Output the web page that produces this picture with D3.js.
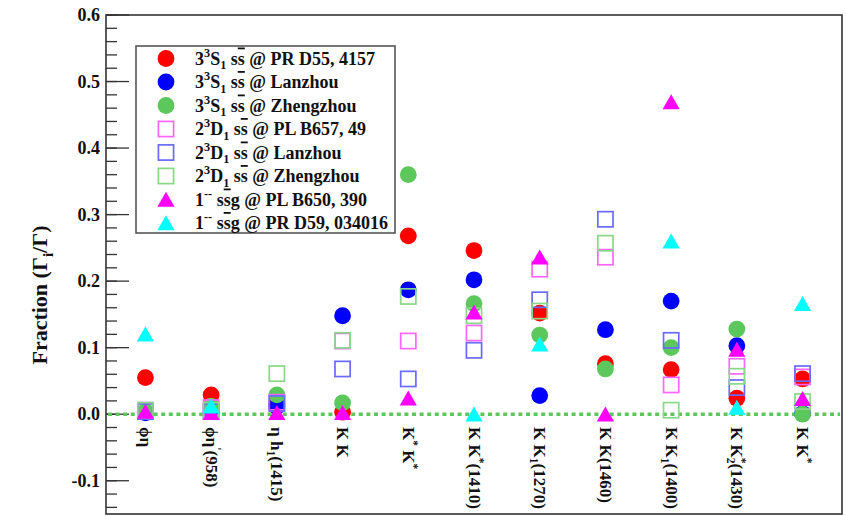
<!DOCTYPE html>
<html>
<head>
<meta charset="utf-8">
<script src="https://cdn.jsdelivr.net/npm/d3@7"></script>
<style>
  body { margin: 0; background: #fff; }
  svg text { font-family: "Liberation Serif", "Times New Roman", serif; font-weight: bold; fill: #111; }
</style>
</head>
<body>
<div id="visualContainer"></div>
<script>
// categories (ROOT-like markup: ^{} sup, _{} sub, #bar{} overline)
var categories = ["#phi#eta", "#phi#eta^{'}(958)", "#eta h_{1}(1415)", "K K", "K^{*} K^{*}",
  "K K^{*}(1410)", "K K_{1}(1270)", "K K(1460)", "K K_{1}(1400)", "K K_{2}^{*}(1430)", "K K^{*}"];

// fraction values per model, one per category
var s3_PRD55   = [0.055, 0.029, 0.015, 0.003, 0.268, 0.246, 0.152, 0.076, 0.067, 0.024, 0.053];
var s3_Lanzhou = [0.002, 0.005, 0.012, 0.148, 0.187, 0.202, 0.028, 0.127, 0.170, 0.103, 0.001];
var s3_Zhengz  = [0.004, 0.012, 0.029, 0.017, 0.360, 0.166, 0.119, 0.068, 0.100, 0.128, 0.000];
var d2_PLB657  = [0.006, 0.010, 0.018, 0.110, 0.110, 0.122, 0.218, 0.236, 0.044, 0.072, 0.056];
var d2_Lanzhou = [0.004, 0.004, 0.016, 0.068, 0.053, 0.096, 0.172, 0.293, 0.111, 0.040, 0.061];
var d2_Zhengz  = [0.006, 0.006, 0.061, 0.111, 0.177, 0.148, 0.155, 0.257, 0.006, 0.057, 0.019];
var g_PLB650   = [0.004, 0.002, 0.002, 0.002, 0.024, 0.153, 0.236, 0.000, 0.469, 0.097, 0.023];
var g_PRD59    = [0.120, 0.012, null, null, null, 0.000, 0.105, null, 0.260, 0.010, 0.166];

var legendLabels = [
  "3^{3}S_{1} s#bar{s} @ PR D55, 4157",
  "3^{3}S_{1} s#bar{s} @ Lanzhou",
  "3^{3}S_{1} s#bar{s} @ Zhengzhou",
  "2^{3}D_{1} s#bar{s} @ PL B657, 49",
  "2^{3}D_{1} s#bar{s} @ Lanzhou",
  "2^{3}D_{1} s#bar{s} @ Zhengzhou",
  "1^{--} s#bar{s}g @ PL B650, 390",
  "1^{--} s#bar{s}g @ PR D59, 034016"
];

var yTicks = [-0.1, 0.0, 0.1, 0.2, 0.3, 0.4, 0.5, 0.6];

var series = [
  {values: s3_PRD55,   shape: "circle",   color: "#ff0000"},
  {values: s3_Lanzhou, shape: "circle",   color: "#0000ff"},
  {values: s3_Zhengz,  shape: "circle",   color: "#5cc85c"},
  {values: d2_PLB657,  shape: "square",   color: "#ff66ff"},
  {values: d2_Lanzhou, shape: "square",   color: "#6a6aff"},
  {values: d2_Zhengz,  shape: "square",   color: "#88d888"},
  {values: g_PLB650,   shape: "triangle", color: "#ff00ff"},
  {values: g_PRD59,    shape: "triangle", color: "#00ffff"}
];

var W = 846, H = 516;
var padL = 106, padR = 842, padT = 15, padB = 514;

var svgCanvas = d3.select("#visualContainer")
  .append("svg")
  .attr("width", W)
  .attr("height", H);

var x = d3.scaleLinear().domain([-0.6, 10.6]).range([padL, padR]);
var y = d3.scaleLinear().domain([-0.15, 0.6]).range([padB, padT]);

// turn the little markup into tspans
function markup(sel, str, fs) {
  var re = /(\^\{[^}]*\}|_\{[^}]*\}|#bar\{[^}]*\}|#phi|#eta)/g;
  var parts = str.split(re).filter(function(p){ return p !== ""; });
  var shift = 0, lastSubLen = 0;
  parts.forEach(function(p) {
    var t, dy = 0, size = fs, deco = null, dx = 0;
    if (p.indexOf("^{") === 0) {
      t = p.slice(2, -1); size = fs * 0.68; dy = -fs * 0.42;
      if (lastSubLen) dx = -lastSubLen * size * 0.5;
    } else if (p.indexOf("_{") === 0) {
      t = p.slice(2, -1); size = fs * 0.68; dy = fs * 0.25;
    } else if (p.indexOf("#bar{") === 0) {
      t = p.slice(5, -1); deco = "overline";
    } else if (p === "#phi") { t = "\u03d5";
    } else if (p === "#eta") { t = "\u03b7";
    } else { t = p; }
    var ts = sel.append("tspan")
      .attr("font-size", size)
      .attr("dy", dy - shift)
      .text(t);
    if (dx) ts.attr("dx", dx);
    if (deco) ts.style("text-decoration", deco);
    shift = dy;
    lastSubLen = p.indexOf("_{") === 0 ? t.length : 0;
  });
}

// y axis ticks (major every 0.1, minor every 0.02)
var minor = d3.range(-0.14, 0.6001, 0.02);
svgCanvas.selectAll("line.minor")
  .data(minor)
  .enter()
    .append("line")
      .attr("x1", padL).attr("x2", padL + 11)
      .attr("y1", function(d){ return y(d); })
      .attr("y2", function(d){ return y(d); })
      .attr("stroke", "#333").attr("stroke-width", 1.3);

svgCanvas.selectAll("line.major")
  .data(yTicks)
  .enter()
    .append("line")
      .attr("x1", padL).attr("x2", padL + 23)
      .attr("y1", function(d){ return y(d); })
      .attr("y2", function(d){ return y(d); })
      .attr("stroke", "#333").attr("stroke-width", 1.3);

svgCanvas.selectAll("text.ytick")
  .data(yTicks)
  .enter()
    .append("text")
      .attr("x", 100)
      .attr("y", function(d){ return y(d) + 6; })
      .attr("text-anchor", "end")
      .attr("font-size", 18)
      .text(function(d){ return d.toFixed(1); });

// y title
var yt = svgCanvas.append("text")
  .attr("transform", "translate(47,295) rotate(-90)")
  .attr("text-anchor", "middle");
markup(yt, "Fraction (\u0393_{i}/\u0393)", 22);

// zero line
svgCanvas.append("line")
  .attr("x1", padL + 2).attr("x2", padR - 2)
  .attr("y1", y(0)).attr("y2", y(0))
  .attr("stroke", "#5cc85c")
  .attr("stroke-width", 3.5)
  .attr("stroke-dasharray", "4,3.6");

// category labels, rotated
categories.forEach(function(c, i) {
  var t = svgCanvas.append("text")
    .attr("transform", "translate(" + (x(i) - 5.5) + ",427) rotate(90)");
  markup(t, c, 17);
});

// markers
function drawMarker(g, shape, color, cx, cy) {
  if (shape === "circle") {
    g.append("circle").attr("cx", cx).attr("cy", cy).attr("r", 8.4).attr("fill", color);
  } else if (shape === "square") {
    g.append("rect").attr("x", cx - 7.6).attr("y", cy - 7.6)
      .attr("width", 15.2).attr("height", 15.2)
      .attr("fill", "none").attr("stroke", color).attr("stroke-width", 1.7);
  } else {
    g.append("path")
      .attr("d", "M" + cx + "," + (cy - 7.8) + "L" + (cx + 8.6) + "," + (cy + 7.2) + "L" + (cx - 8.6) + "," + (cy + 7.2) + "Z")
      .attr("fill", color);
  }
}

var marks = svgCanvas.append("g");
series.forEach(function(s) {
  var g = marks.append("g");
  s.values.forEach(function(v, i) {
    if (v === null) return;
    drawMarker(g, s.shape, s.color, x(i), y(v));
  });
});

// legend
var lg = svgCanvas.append("g");
lg.append("rect")
  .attr("x", 136).attr("y", 46).attr("width", 259).attr("height", 187)
  .attr("fill", "#fff").attr("stroke", "#555").attr("stroke-width", 1.6);
series.forEach(function(s, i) {
  var ly = 58.5 + i * 23.5;
  drawMarker(lg, s.shape, s.color, 166, ly);
  var t = lg.append("text").attr("x", 195).attr("y", ly + 6);
  markup(t, legendLabels[i], 18);
});

// frame
svgCanvas.append("rect")
  .attr("x", padL).attr("y", padT)
  .attr("width", padR - padL).attr("height", padB - padT)
  .attr("fill", "none").attr("stroke", "#333").attr("stroke-width", 1.6);
</script>
</body>
</html>
